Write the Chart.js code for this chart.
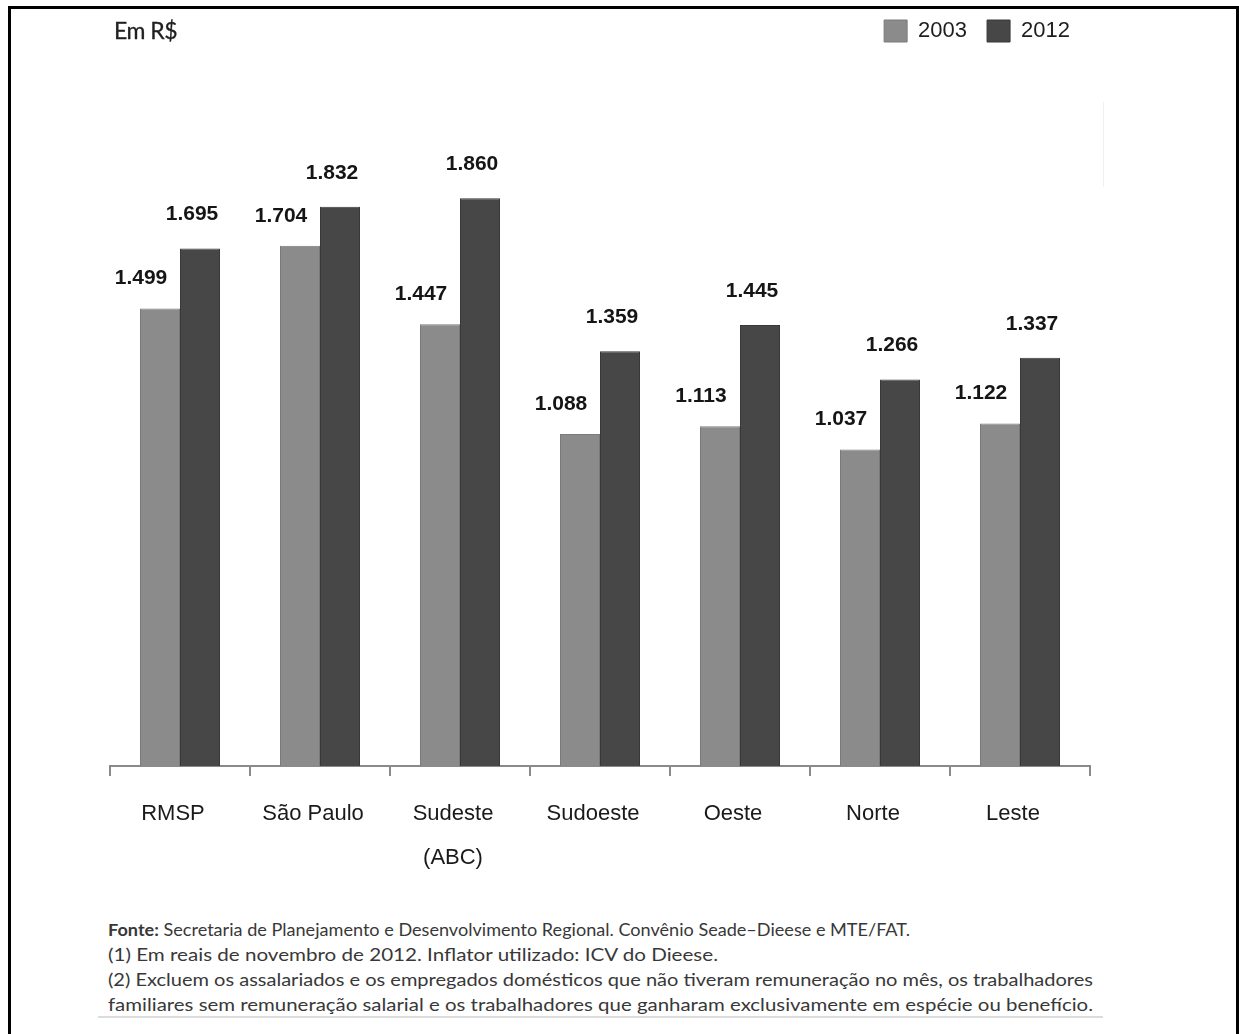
<!DOCTYPE html>
<html lang="pt-BR">
<head>
<meta charset="utf-8">
<title>Rendimento médio real</title>
<script src="https://cdn.jsdelivr.net/npm/chart.js@4/dist/chart.umd.min.js"></script>
<style>
  html, body { margin: 0; padding: 0; background: #fff; }
  body { width: 1239px; height: 1034px; position: relative; overflow: hidden; }
  #frame { position: absolute; left: 8px; top: 6px; width: 1231px; height: 1100px;
           border: 3px solid #000; box-sizing: border-box; pointer-events: none; }
  #chartBox { position: absolute; left: 0; top: 0; width: 1239px; height: 900px; }
  #unit { position: absolute; left: 114px; top: 16px; font: 23px Lato, "Open Sans", sans-serif;
          color: #1f1f1f; line-height: 28px; letter-spacing: -0.5px; -webkit-text-stroke: 0.3px #1f1f1f; }
  #notes { position: absolute; left: 108px; top: 917px; color: #383838;
           font: 17px Lato, "Open Sans", sans-serif; }
  #notes div { height: 25px; line-height: 25px; white-space: nowrap; }
  #notes span { display: inline-block; transform-origin: 0 50%; }
  #rule { position: absolute; left: 98px; top: 1016px; width: 1005px; height: 2px; background: #dcdcdc; }
  #tick { position: absolute; left: 1103px; top: 102px; width: 1px; height: 85px; background: #f1f1f1; }
</style>
</head>
<body>
<div id="chartBox"><canvas id="chart"></canvas></div>
<div id="unit">Em R$</div>
<div id="tick"></div>
<div id="notes">
  <div data-w="802"><span><b>Fonte:</b> Secretaria de Planejamento e Desenvolvimento Regional. Convênio Seade–Dieese e MTE/FAT.</span></div>
  <div data-w="610"><span>(1) Em reais de novembro de 2012. Inflator utilizado: ICV do Dieese.</span></div>
  <div data-w="985"><span>(2) Excluem os assalariados e os empregados domésticos que não tiveram remuneração no mês, os trabalhadores</span></div>
  <div data-w="985"><span>familiares sem remuneração salarial e os trabalhadores que ganharam exclusivamente em espécie ou benefício.</span></div>
</div>
<div id="rule"></div>
<div id="frame"></div>
<script>
// Regiões e rendimentos médios reais (R$)
const categories = ['RMSP', 'São Paulo', ['Sudeste', '(ABC)'], 'Sudoeste', 'Oeste', 'Norte', 'Leste'];
const seriesNames = ['2003', '2012'];
const values2003 = [1499, 1704, 1447, 1088, 1113, 1037, 1122];
const values2012 = [1695, 1832, 1860, 1359, 1445, 1266, 1337];

const colors = ['#8b8b8b', '#474747'];
const borders = ['#7a7a7a', '#383838'];
// label placement relative to the top centre of each bar
const labelOffsets = [{ dx: -19, dy: -30 }, { dx: -8, dy: -34 }];

// 1499 -> "1.499"
const fmt = v => String(v).replace(/\B(?=(\d{3})+(?!\d))/g, '.');

const valueLabels = {
  id: 'valueLabels',
  afterDatasetsDraw(chart) {
    const ctx = chart.ctx;
    ctx.save();
    ctx.font = 'bold 21px "Liberation Sans", Arial, sans-serif';
    ctx.fillStyle = '#151515';
    ctx.textAlign = 'center';
    ctx.textBaseline = 'middle';
    chart.data.datasets.forEach((ds, i) => {
      const off = labelOffsets[i];
      chart.getDatasetMeta(i).data.forEach((bar, j) => {
        ctx.fillText(fmt(ds.data[j]), bar.x + off.dx, bar.y + off.dy);
      });
    });
    ctx.restore();
  }
};

new Chart(document.getElementById('chart'), {
  type: 'bar',
  data: {
    labels: categories,
    datasets: [
      { label: seriesNames[0], data: values2003, backgroundColor: colors[0], borderColor: borders[0], borderWidth: 1 },
      { label: seriesNames[1], data: values2012, backgroundColor: colors[1], borderColor: borders[1], borderWidth: 1 }
    ]
  },
  options: {
    responsive: true,
    maintainAspectRatio: false,
    animation: false,
    events: [],
    datasets: { bar: { categoryPercentage: 0.5714, barPercentage: 1.0 } },
    layout: { padding: { top: 0, left: 110, right: 149, bottom: 4 } },
    plugins: {
      tooltip: { enabled: false },
      legend: {
        position: 'top',
        align: 'end',
        labels: {
          boxWidth: 23,
          boxHeight: 22,
          padding: 20,
          color: '#1e1e1e',
          font: { family: '"Liberation Sans", Arial, sans-serif', size: 22 }
        }
      }
    },
    scales: {
      x: {
        grid: { offset: true, drawOnChartArea: false, drawTicks: true, tickLength: 10, color: '#8a8a8a', lineWidth: 2 },
        border: { display: true, color: '#8a8a8a', width: 2 },
        ticks: {
          padding: 16,
          labelOffset: -7,
          color: '#1a1a1a',
          font: { family: '"Liberation Sans", Arial, sans-serif', size: 22, lineHeight: 2 },
          maxRotation: 0
        }
      },
      y: { display: false, min: 0, max: 2339 }
    }
  },
  plugins: [valueLabels]
});

// stretch each footnote line to its column width
function fitNotes() {
  document.querySelectorAll('#notes div').forEach(d => {
    const s = d.querySelector('span');
    s.style.transform = 'none';
    const w = s.getBoundingClientRect().width;
    const target = parseFloat(d.dataset.w);
    if (w > 0) s.style.transform = 'scaleX(' + (target / w).toFixed(4) + ')';
  });
}
fitNotes();
if (document.fonts && document.fonts.ready) document.fonts.ready.then(fitNotes);
</script>
</body>
</html>
